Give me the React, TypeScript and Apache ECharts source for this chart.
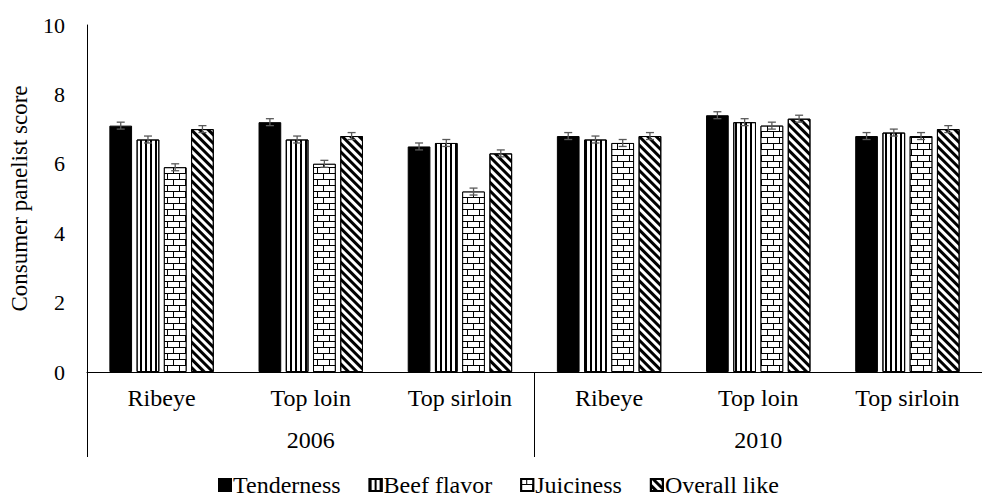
import React, { useEffect, useRef } from "react";
import * as echarts from "echarts";

const categories = ["Ribeye", "Top loin", "Top sirloin", "Ribeye", "Top loin", "Top sirloin"];
const years = ["2006", "2010"];
const seriesNames = ["Tenderness", "Beef flavor", "Juiciness", "Overall like"];
const tenderness = [7.1, 7.2, 6.5, 6.8, 7.4, 6.8];
const beefFlavor = [6.7, 6.7, 6.6, 6.7, 7.2, 6.9];
const juiciness = [5.9, 6.0, 5.2, 6.6, 7.1, 6.8];
const overallLike = [7.0, 6.8, 6.3, 6.8, 7.3, 7.0];
const errTenderness = [0.1, 0.1, 0.1, 0.1, 0.1, 0.1];
const errBeefFlavor = [0.1, 0.1, 0.1, 0.1, 0.1, 0.1];
const errJuiciness = [0.1, 0.1, 0.1, 0.1, 0.1, 0.1];
const errOverallLike = [0.1, 0.1, 0.1, 0.1, 0.1, 0.1];
const yTicks = { min: 0, max: 10, interval: 2 };

const FONT = "Liberation Serif";

export default function App() {
  const ref = useRef<HTMLDivElement>(null);
  useEffect(() => {
    if (!ref.current) return;
    const chart = echarts.init(ref.current, null, { renderer: "svg" });
    const values = [tenderness, beefFlavor, juiciness, overallLike];
    const errs = [errTenderness, errBeefFlavor, errJuiciness, errOverallLike];
    const styles: any[] = [
      { color: "#000", borderColor: "#000", borderWidth: 1 },
      {
        color: "#fff",
        borderColor: "#000",
        borderWidth: 1,
        decal: {
          symbol: "rect",
          symbolSize: 1,
          symbolKeepAspect: false,
          color: "#000",
          dashArrayX: [2, 3],
          dashArrayY: [4, 0],
          rotation: 0,
        },
      },
      {
        color: "#000",
        borderColor: "#000",
        borderWidth: 1,
        decal: {
          symbol: "rect",
          symbolSize: 1,
          symbolKeepAspect: false,
          color: "#fff",
          dashArrayX: [
            [11, 1],
            [5, 1, 6, 0],
          ],
          dashArrayY: [5, 1],
          rotation: 0,
        },
      },
      {
        color: "#fff",
        borderColor: "#000",
        borderWidth: 1,
        decal: {
          symbol: "rect",
          symbolSize: 1,
          symbolKeepAspect: false,
          color: "#000",
          dashArrayX: [3, 3],
          dashArrayY: [4, 0],
          rotation: -Math.PI / 4,
        },
      },
    ];
    const barSeries = seriesNames.map((name, i) => ({
      name,
      type: "bar",
      xAxisIndex: 0,
      yAxisIndex: 0,
      data: values[i],
      barCategoryGap: "30%",
      barGap: "20%",
      itemStyle: styles[i],
      emphasis: { disabled: true },
    }));
    const errData: number[][] = [];
    seriesNames.forEach((_, si) => {
      values[si].forEach((v, ci) => errData.push([ci, si, v, errs[si][ci]]));
    });
    const errSeries = {
      type: "custom",
      xAxisIndex: 0,
      yAxisIndex: 0,
      data: errData,
      encode: { x: 0, y: 2 },
      z: 5,
      silent: true,
      renderItem: (params: any, api: any) => {
        const ci = api.value(0);
        const si = api.value(1);
        const v = api.value(2);
        const e = api.value(3);
        const band = api.size([1, 0])[0];
        const inner = band * 0.7;
        const bw = inner / (4 + 3 * 0.2);
        const cx = api.coord([ci, 0])[0] - inner / 2 + si * bw * 1.2 + bw / 2;
        const yTop = api.coord([ci, v + e])[1];
        const yBot = api.coord([ci, v - e])[1];
        const cap = 4;
        const st = { stroke: "#595959", lineWidth: 1.3 };
        return {
          type: "group",
          children: [
            { type: "line", shape: { x1: cx, y1: yTop, x2: cx, y2: yBot }, style: st },
            { type: "line", shape: { x1: cx - cap, y1: yTop, x2: cx + cap, y2: yTop }, style: st },
            { type: "line", shape: { x1: cx - cap, y1: yBot, x2: cx + cap, y2: yBot }, style: st },
          ],
        };
      },
    };
    chart.setOption({
      animation: false,
      backgroundColor: "#fff",
      grid: { left: 85, top: 25, width: 910, height: 347, containLabel: false },
      legend: {
        data: seriesNames,
        top: 468,
        left: 213,
        icon: "rect",
        itemWidth: 12,
        itemHeight: 12,
        itemGap: 28,
        textStyle: {
          fontFamily: FONT,
          fontSize: 24,
          color: "#000",
          padding: [0, 0, 0, -3],
        },
      },
      xAxis: [
        {
          type: "category",
          data: categories,
          position: "bottom",
          axisLine: { show: true, lineStyle: { color: "#000", width: 1 } },
          axisTick: { show: false },
          axisLabel: { fontFamily: FONT, fontSize: 24, color: "#000", margin: 14 },
          splitLine: { show: false },
          z: 10,
        },
        {
          type: "category",
          data: years,
          position: "bottom",
          axisLine: { show: false },
          axisTick: { show: true, length: 85, lineStyle: { color: "#000", width: 1 } },
          axisLabel: { fontFamily: FONT, fontSize: 24, color: "#000", margin: 56 },
          splitLine: { show: false },
        },
      ],
      yAxis: {
        type: "value",
        min: yTicks.min,
        max: yTicks.max,
        interval: yTicks.interval,
        axisLine: { show: true, lineStyle: { color: "#000", width: 1 } },
        axisTick: { show: false },
        splitLine: { show: false },
        axisLabel: { fontFamily: FONT, fontSize: 22, color: "#000", margin: 22 },
        name: "Consumer panelist score",
        nameLocation: "middle",
        nameGap: 56,
        nameTextStyle: { fontFamily: FONT, fontSize: 23, color: "#000" },
      },
      series: [...barSeries, errSeries],
    });
    return () => chart.dispose();
  }, []);
  return (
    <div
      ref={ref}
      style={{ position: "absolute", left: 0, top: 0, width: 982, height: 497 }}
    />
  );
}
